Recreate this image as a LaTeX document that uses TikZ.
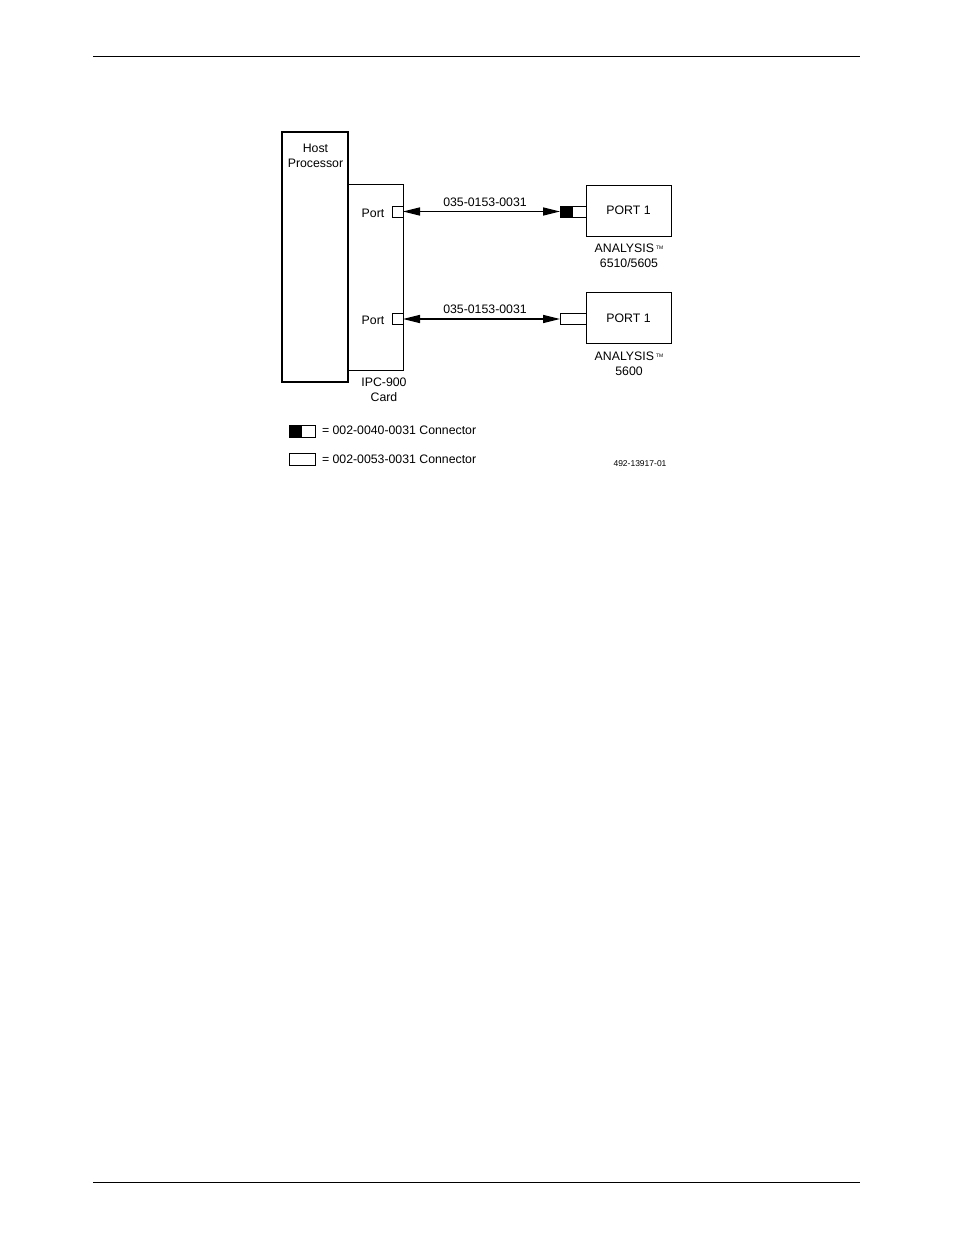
\documentclass[tikz,border=0pt]{standalone}
\usepackage{fontspec}
\setmainfont{Liberation Sans}
\usetikzlibrary{arrows.meta}
\begin{document}
\begin{tikzpicture}[x=1pt,y=-1pt,
  every node/.style={inner sep=0pt,outer sep=0pt,font=\fontsize{12.3}{15}\selectfont},
  lbl/.style={align=center},
  box/.style={draw,line width=1pt},
  thickbox/.style={draw,line width=2pt},
  conn/.style={draw,line width=1pt,fill=white},
  cable/.style={line width=1.5pt,{Triangle[length=17,width=8]}-{Triangle[length=17,width=8]}},
  rule/.style={line width=1pt}]
\useasboundingbox (0,0) rectangle (954,1235);
% page rules
\coordinate (hl) at (93,56.5); \coordinate (hr) at (860,56.5);
\coordinate (fl) at (93,1182.5); \coordinate (fr) at (860,1182.5);
\draw[rule] (hl) -- (hr);
\draw[rule] (fl) -- (fr);
% IPC card
\draw[box] (348,184) rectangle (403,370);
% host
\draw[thickbox] (282,132) rectangle (348,382);
\node[lbl] (host) at (315.5,156) {Host\\Processor};
% ports on card
\node[conn,minimum width=11,minimum height=11,anchor=east] (p1) at (403,211.5) {};
\node[conn,minimum width=11,minimum height=11,anchor=east] (p2) at (403,319) {};
\node (pl1) at (373,213) {Port};
\node (pl2) at (373,320.5) {Port};
\node[lbl] (ipc) at (384,390) {IPC-900\\Card};
% connectors at analysers
\node[conn,minimum width=26,minimum height=11,anchor=east] (c1) at (586,211.5) {};
\fill (c1.north west) rectangle ([xshift=13]c1.south west);
\draw[line width=1pt] (c1.north west) rectangle (c1.south east);
\node[conn,minimum width=26,minimum height=11,anchor=east] (c2) at (586,319) {};
% analysers
\node[box,minimum width=85,minimum height=51,anchor=north west] (a1) at (586,185) {PORT 1};
\node[box,minimum width=85,minimum height=51,anchor=north west] (a2) at (586,292.5) {PORT 1};
\node[lbl] (a1l) at (629,255.5) {ANALYSIS\,\raisebox{3pt}{\fontsize{5}{5}\selectfont TM}\\6510/5605};
\node[lbl] (a2l) at (629,363.5) {ANALYSIS\,\raisebox{3pt}{\fontsize{5}{5}\selectfont TM}\\5600};
% cables
\draw[cable] (p1.east) -- node[above=5pt,xshift=3.5pt] {035-0153-0031} (c1.west);
\draw[cable] (p2.east) -- node[above=5pt,xshift=3.5pt] {035-0153-0031} (c2.west);
% legend
\node[conn,minimum width=26,minimum height=12,anchor=west] (k1) at (289,431) {};
\fill (k1.north west) rectangle ([xshift=13]k1.south west);
\draw[line width=1pt] (k1.north west) rectangle (k1.south east);
\node[anchor=west] (k1t) at (322,430.5) {= 002-0040-0031 Connector};
\node[conn,minimum width=26,minimum height=12,anchor=west] (k2) at (289,459) {};
\node[anchor=west] (k2t) at (322,459.5) {= 002-0053-0031 Connector};
\node[font=\fontsize{8.5}{10}\selectfont] (fig) at (640,463.5) {492-13917-01};
\end{tikzpicture}
\end{document}
